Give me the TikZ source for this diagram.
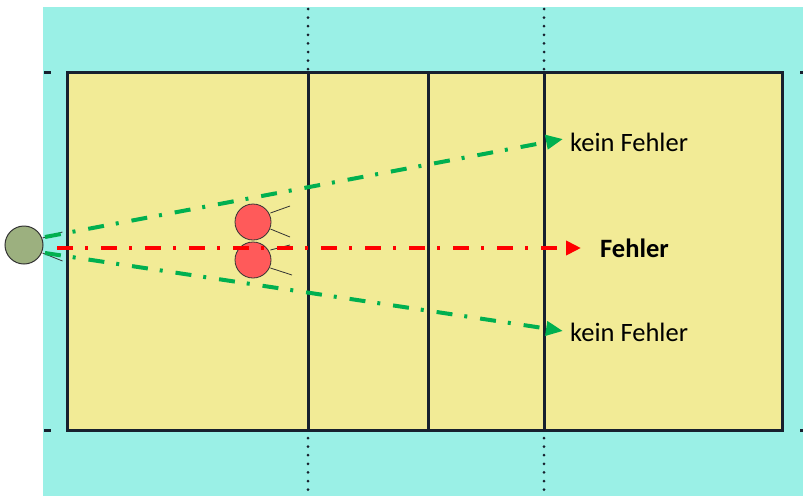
\documentclass[tikz,border=0pt]{standalone}
\usepackage{fontspec}
\setmainfont{Carlito}
\usetikzlibrary{arrows.meta}
\definecolor{bgcyan}{HTML}{9AF0E6}
\definecolor{court}{HTML}{F2EB96}
\definecolor{navy}{HTML}{17202E}
\definecolor{grn}{HTML}{00B050}
\definecolor{rd}{HTML}{FF0000}
\definecolor{player}{HTML}{FF5A5A}
\definecolor{ballc}{HTML}{9CB07F}
\tikzset{
  courtline/.style={draw=navy, line width=3pt},
  netdots/.style={draw=navy, line width=3pt, line cap=round, dash pattern=on 0pt off 8.6pt},
  tick/.style={draw=navy, line width=3pt},
  dashdot/.style={line width=4pt, dash pattern=on 16pt off 12pt on 3pt off 13pt},
  greenarrow/.style={dashdot, draw=grn, -{Triangle[length=17pt,width=14pt]}},
  redarrow/.style={dashdot, draw=rd, -{Triangle[length=15pt,width=14pt]}},
  playerc/.style={circle, draw=black!80, line width=0.8pt, fill=player, minimum size=36pt, inner sep=0pt},
  ballnode/.style={circle, draw=black!80, line width=1pt, fill=ballc, minimum size=38pt, inner sep=0pt},
  arm/.style={draw=black!80, line width=0.8pt},
  lbl/.style={font=\fontsize{26.5}{30}\selectfont, anchor=west, inner sep=0pt},
}
\begin{document}
\begin{tikzpicture}[x=1pt,y=-1pt]
\useasboundingbox (0,0) rectangle (803,496);
% background
\fill[bgcyan] (43,7) rectangle (803,496);
% court
\fill[court] (67,72) rectangle (782,430);
% dotted net extensions
\draw[netdots] (308,9) -- (308,72);
\draw[netdots] (544,9) -- (544,72);
\draw[netdots] (308,438) -- (308,496);
\draw[netdots] (544,438) -- (544,496);
% ticks
\draw[tick] (44,72) -- (51,72);
\draw[tick] (44,430) -- (51,430);
\draw[tick] (800,72) -- (803,72);
\draw[tick] (800,430) -- (803,430);
% court lines
\draw[courtline] (67,72) rectangle (782,430);
\draw[courtline] (308,72) -- (308,430);
\draw[courtline] (428,72) -- (428,430);
\draw[courtline] (544,72) -- (544,430);
% ball
\node[ballnode] (ball) at (24,245) {};
\draw[arm] (ball.east) ++(-1,-7) -- ++(20,-6);
\draw[arm] (ball.east) ++(-1,8) -- ++(20,8);
% players
\node[playerc] (p1) at (253,222) {};
\node[playerc] (p2) at (253,260) {};
\draw[arm] (p1.east) ++(-1,-9) -- (290,206);
\draw[arm] (p1.east) ++(-1,7) -- (290,237);
\draw[arm] (p2.east) ++(-1,-10) -- (290,245);
\draw[arm] (p2.east) ++(-1,8) -- (292,275);
% labels
\node[lbl] (k1) at (570,142) {kein Fehler};
\node[lbl, font=\fontsize{26.5}{30}\selectfont\bfseries] (f) at (600,248) {Fehler};
\node[lbl] (k2) at (570,332) {kein Fehler};
% arrows
\coordinate (s1) at (45,237);
\coordinate (s2) at (45,253);
\coordinate (s3) at (57,248);
\draw[greenarrow] (s1) -- ([xshift=-7pt,yshift=3pt]k1.west);
\draw[greenarrow] (s2) -- ([xshift=-7pt,yshift=1pt]k2.west);
\draw[redarrow] (s3) -- ([xshift=-19pt]f.west);
\end{tikzpicture}
\end{document}
